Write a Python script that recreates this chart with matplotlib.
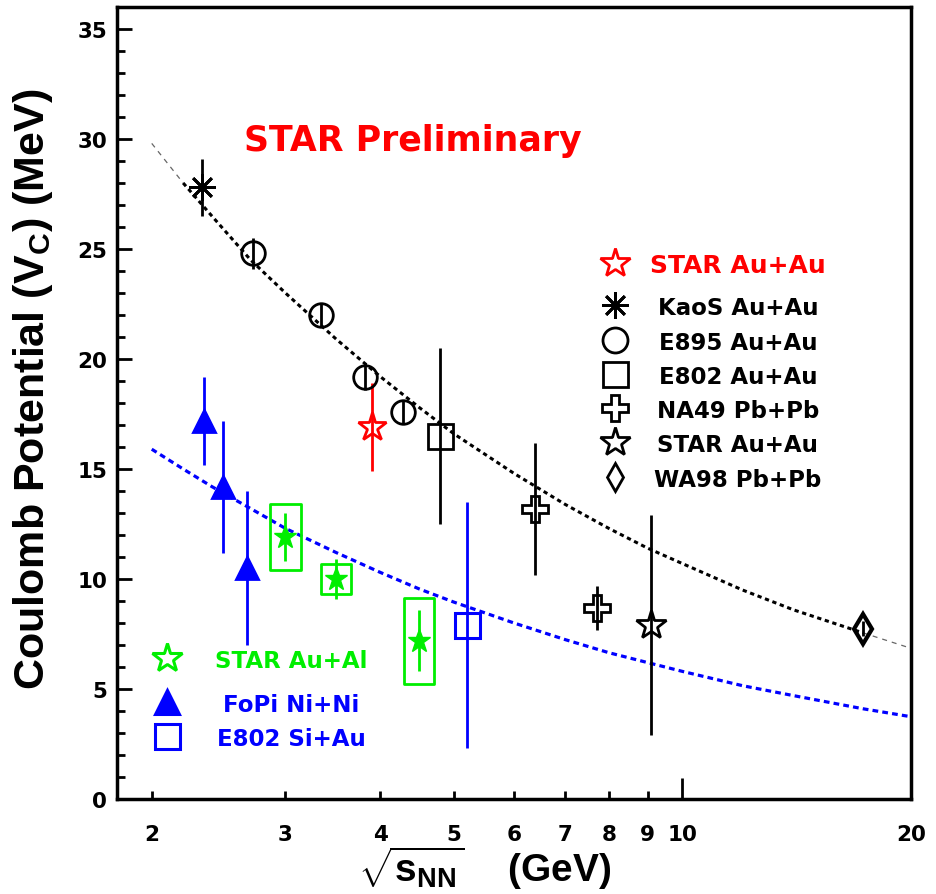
import matplotlib.pyplot as plt
from matplotlib.patches import Rectangle
from matplotlib.ticker import MultipleLocator

# sqrt(s_NN) [GeV] vs Coulomb potential V_C [MeV]
kaos_x = [2.33]
kaos_y = [27.8]
kaos_err = [1.3]

e895_x = [2.72, 3.34, 3.82, 4.29]
e895_y = [24.8, 22.0, 19.2, 17.6]
e895_err = [0.7, 0.5, 0.6, 0.5]

e802_auau_x = [4.80]
e802_auau_y = [16.5]
e802_auau_err = [4.0]

na49_x = [6.40, 7.72]
na49_y = [13.2, 8.7]
na49_err = [3.0, 1.0]

star_auau_x = [9.1]
star_auau_y = [7.9]
star_auau_err = [5.0]

wa98_x = [17.3]
wa98_y = [7.75]
wa98_err = [0.35]

star_prelim_x = [3.9]
star_prelim_y = [16.9]
star_prelim_err = [2.0]

fopi_x = [2.34, 2.48, 2.67]
fopi_y = [17.2, 14.2, 10.5]
fopi_err = [2.0, 3.0, 3.5]

e802_siau_x = [5.2]
e802_siau_y = [7.9]
e802_siau_err = [5.6]

star_aual_x = [3.0, 3.5, 4.5]
star_aual_y = [11.9, 10.0, 7.2]
star_aual_stat = [1.1, 0.9, 1.4]
star_aual_sys = [1.5, 0.7, 1.95]

# fitted curves (heavy systems / light systems)
fit_x = [2.0, 2.2, 2.4, 2.7, 3.0, 3.5, 4.0, 4.5, 5.0, 6.0, 7.0, 8.0, 9.0, 10, 12, 14, 17.3, 20]
fit_heavy = [29.8, 28.0, 26.5, 24.5, 23.0, 20.9, 19.2, 17.8, 16.6, 14.8, 13.4, 12.3,
             11.4, 10.7, 9.5, 8.6, 7.55, 6.85]
fit_light = [15.9, 15.0, 14.2, 13.2, 12.3, 11.2, 10.3, 9.55, 8.95, 8.0, 7.25, 6.65,
             6.2, 5.8, 5.15, 4.7, 4.1, 3.74]

RED, GREEN, BLUE = '#ff0000', '#00ee00', '#0000ff'

plt.rcParams['font.family'] = 'DejaVu Sans'
plt.rcParams['font.weight'] = 'bold'
plt.rcParams['axes.labelweight'] = 'bold'
plt.rcParams['mathtext.fontset'] = 'custom'
plt.rcParams['mathtext.rm'] = 'Liberation Sans:bold'
plt.rcParams['mathtext.bf'] = 'Liberation Sans:bold'
plt.rcParams['mathtext.it'] = 'Liberation Sans:bold'
plt.rcParams['mathtext.default'] = 'bf'

fig = plt.figure(figsize=(9.36, 8.95), dpi=100)
ax = fig.add_axes([117 / 936, 95 / 895, 794 / 936, 792 / 895])
ax.set_xscale('log')
ax.set_xlim(1.8, 20)
ax.set_ylim(0, 36)

# fit curves, extrapolated parts drawn thin
ax.plot(fit_x[:2], fit_heavy[:2], color='0.4', lw=0.9, dashes=(4, 4), zorder=2)
ax.plot(fit_x[-2:], fit_heavy[-2:], color='0.4', lw=0.9, dashes=(4, 4), zorder=2)
ax.plot(fit_x[1:-1], fit_heavy[1:-1], color='black', lw=2.2, dashes=(1.4, 1.2), zorder=2)
ax.plot(fit_x, fit_light, color=BLUE, lw=2.3, dashes=(1.8, 1.3), zorder=2)


def series(x, y, err, marker, color, ms, mfc='none', mew=2.0):
    ax.errorbar(x, y, yerr=err, fmt='none', ecolor=color, elinewidth=2.0,
                capsize=0, zorder=5)
    ax.plot(x, y, linestyle='none', marker=marker, ms=ms, mfc=mfc, mec=color,
            mew=mew, zorder=6)


series(kaos_x, kaos_y, kaos_err, (8, 2, 0), 'black', 19, mew=2.0)
series(e895_x, e895_y, e895_err, 'o', 'black', 17)
series(e802_auau_x, e802_auau_y, e802_auau_err, 's', 'black', 18)
series(na49_x, na49_y, na49_err, 'P', 'black', 19)
series(star_auau_x, star_auau_y, star_auau_err, '*', 'black', 22)
series(wa98_x, wa98_y, wa98_err, 'd', 'black', 15, mew=3.0)
series(star_prelim_x, star_prelim_y, star_prelim_err, '*', RED, 21)
series(fopi_x, fopi_y, fopi_err, '^', BLUE, 16, mfc=BLUE)
series(e802_siau_x, e802_siau_y, e802_siau_err, 's', BLUE, 18, mew=2.2)

# systematic boxes for Au+Al
for x, y, s in zip(star_aual_x, star_aual_y, star_aual_sys):
    lo, hi = x * 10 ** -0.02, x * 10 ** 0.02
    ax.add_patch(Rectangle((lo, y - s), hi - lo, 2 * s, fill=False, ec=GREEN,
                           lw=2.0, joinstyle='round', zorder=4))
series(star_aual_x, star_aual_y, star_aual_stat, '*', GREEN, 17, mfc=GREEN, mew=1.0)

ax.text(0.373, 0.819, 'STAR Preliminary', color=RED, fontsize=25,
        ha='center', va='baseline', transform=ax.transAxes)

# legends
leg_right = [('STAR Au+Au', '*', RED, 22, 18, 0.677),
             ('KaoS Au+Au', (8, 2, 0), 'black', 19, 16.5, 0.624),
             ('E895 Au+Au', 'o', 'black', 18, 16.5, 0.580),
             ('E802 Au+Au', 's', 'black', 18, 16.5, 0.537),
             ('NA49 Pb+Pb', 'P', 'black', 19, 16.5, 0.494),
             ('STAR Au+Au', '*', 'black', 22, 16.5, 0.451),
             ('WA98 Pb+Pb', 'd', 'black', 14, 16.5, 0.406)]
for label, m, c, ms, fs, yy in leg_right:
    ax.plot([0.627], [yy], marker=m, ms=ms, mfc='none', mec=c, mew=2.0,
            transform=ax.transAxes, clip_on=False)
    ax.text(0.782, yy, label, color=c, fontsize=fs, ha='center',
            va='center_baseline', transform=ax.transAxes)

leg_left = [('STAR Au+Al', '*', GREEN, 'none', 22, 0.178),
            ('FoPi Ni+Ni', '^', BLUE, BLUE, 17, 0.122),
            ('E802 Si+Au', 's', BLUE, 'none', 18, 0.080)]
for label, m, c, fc, ms, yy in leg_left:
    ax.plot([0.063], [yy], marker=m, ms=ms, mfc=fc, mec=c, mew=2.2,
            transform=ax.transAxes, clip_on=False)
    ax.text(0.219, yy, label, color=c, fontsize=16.5, ha='center',
            va='center_baseline', transform=ax.transAxes)

# axes cosmetics
for sp in ax.spines.values():
    sp.set_linewidth(2.5)
ax.set_yticks(range(0, 36, 5))
ax.yaxis.set_minor_locator(MultipleLocator(1))
ax.set_xticks([10], ['10'])
ax.set_xticks([2, 3, 4, 5, 6, 7, 8, 9, 20],
              ['2', '3', '4', '5', '6', '7', '8', '9', '20'], minor=True)
ax.tick_params(axis='y', which='major', direction='in', length=11, width=2,
               labelsize=15.5, pad=7)
ax.tick_params(axis='y', which='minor', direction='in', length=6, width=2)
ax.tick_params(axis='x', which='major', direction='in', length=15, width=2,
               labelsize=15.5, pad=18)
ax.tick_params(axis='x', which='minor', direction='in', length=6, width=2,
               labelsize=15.5, pad=18)

ax.set_xlabel(r'$\sqrt{\mathbf{s}_{\mathbf{NN}}}\quad$ (GeV)', fontsize=28,
              family='Liberation Sans', fontweight='bold')
ax.xaxis.set_label_coords(0.463, -0.057)
ax.set_ylabel(r'Coulomb Potential (V$_{\mathbf{C}}$) (MeV)', fontsize=31,
              family='Liberation Sans', fontweight='bold')
ax.yaxis.set_label_coords(-0.078, 0.518)

fig.savefig('out.png', dpi=100)
